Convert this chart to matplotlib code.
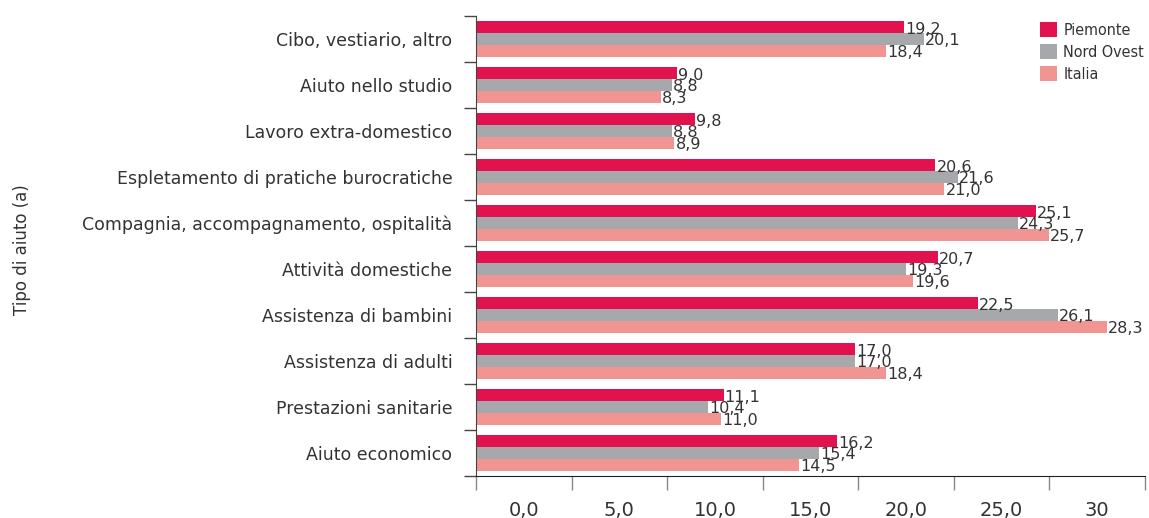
import numpy as np
import matplotlib
matplotlib.use("Agg")
import matplotlib.pyplot as plt
from matplotlib.patches import Patch

# categories, top to bottom as in the chart
categories = [
    "Cibo, vestiario, altro",
    "Aiuto nello studio",
    "Lavoro extra-domestico",
    "Espletamento di pratiche burocratiche",
    "Compagnia, accompagnamento, ospitalità",
    "Attività domestiche",
    "Assistenza di bambini",
    "Assistenza di adulti",
    "Prestazioni sanitarie",
    "Aiuto economico",
]
piemonte = [19.2, 9.0, 9.8, 20.6, 25.1, 20.7, 22.5, 17.0, 11.1, 16.2]
nord_ovest = [20.1, 8.8, 8.8, 21.6, 24.3, 19.3, 26.1, 17.0, 10.4, 15.4]
italia = [18.4, 8.3, 8.9, 21.0, 25.7, 19.6, 28.3, 18.4, 11.0, 14.5]
series_names = ["Piemonte", "Nord Ovest", "Italia"]
x_tick_labels = ["0,0", "5,0", "10,0", "15,0", "20,0", "25,0", "30"]

colors = ["#E2124E", "#A7A8AC", "#F09592"]
text_col = "#333333"

fig = plt.figure(figsize=(11.49, 5.18), dpi=100)
ax = fig.add_axes([476 / 1149, 1 - 476 / 518, (1145 - 476) / 1149, (476 - 16) / 518])

y = np.arange(len(categories))
h = 0.254
for i, (vals, col) in enumerate(zip([piemonte, nord_ovest, italia], colors)):
    pos = y + (i - 1) * h
    ax.barh(pos, vals, height=h, color=col, linewidth=0)
    for p, v in zip(pos, vals):
        ax.text(v + 0.05, p + 0.04, f"{v:.1f}".replace(".", ","), ha="left", va="center",
                fontsize=11.5, color=text_col)

ax.set_xlim(0, 30)
ax.set_ylim(len(categories) - 0.5, -0.5)

# major ticks at boundaries, labels on minor ticks in between
xt = np.linspace(0, 30, len(x_tick_labels) + 1)
ax.set_xticks(xt)
ax.set_xticklabels([])
ax.set_xticks((xt[:-1] + xt[1:]) / 2, minor=True)
ax.set_xticklabels(x_tick_labels, minor=True, fontsize=14, color=text_col)
ax.tick_params(axis="x", which="major", length=10, width=1, color="#888888", direction="out")
ax.tick_params(axis="x", which="minor", length=0, pad=18)

ax.set_yticks(np.arange(-0.5, len(categories), 1))
ax.set_yticklabels([])
ax.set_yticks(y, minor=True)
ax.set_yticklabels(categories, minor=True, fontsize=12.5, color=text_col)
ax.tick_params(axis="y", which="major", length=9, width=1, color="#444444", direction="out")
ax.tick_params(axis="y", which="minor", length=0, pad=17)

for s in ["top", "right"]:
    ax.spines[s].set_visible(False)
ax.spines["left"].set_color("#444444")
ax.spines["bottom"].set_color("#222222")

fig.text(22 / 1149, 1 - 250 / 518, "Tipo di aiuto (a)", rotation=90, ha="center", va="center",
         fontsize=12, color=text_col)

handles = [Patch(facecolor=c, edgecolor="none") for c in colors]
ax.legend(handles, series_names, loc="upper left", bbox_to_anchor=(1032 / 1149, 1 - 14 / 518),
          bbox_transform=fig.transFigure, frameon=False, borderpad=0, handlelength=1.05,
          handleheight=1.05, handletextpad=0.4, labelspacing=0.4,
          prop={"size": 11.5, "stretch": "condensed"}, labelcolor=text_col)

fig.savefig("out.png", dpi=100)
